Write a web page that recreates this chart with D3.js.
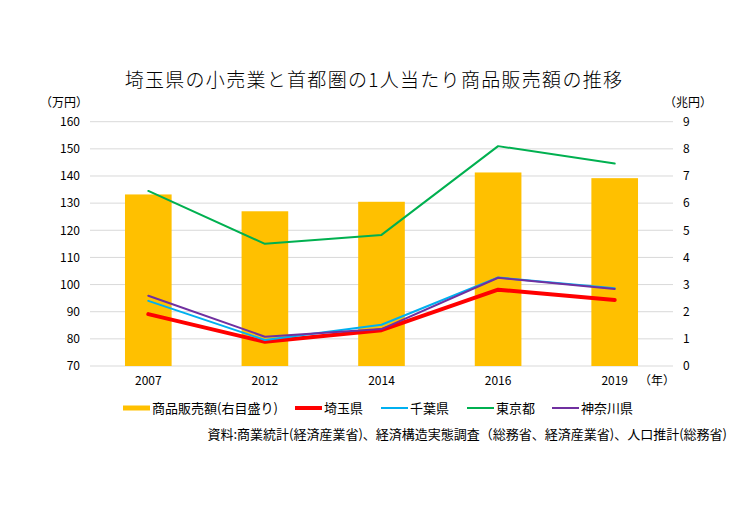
<!DOCTYPE html>
<html>
<head>
<meta charset="utf-8">
<script src="https://cdn.jsdelivr.net/npm/d3@7"></script>
<style>
  body { margin: 0; background: #ffffff; }
  text { font-family: "Noto Sans CJK JP", "Noto Sans", sans-serif; fill: #000000; }
  .grid line { stroke: #d9d9d9; stroke-width: 1; }
  .axes-font text { font-size: 12px; }
</style>
</head>
<body>
<div id="vis"></div>
<script>
// Data
const YEARS = ["2007", "2012", "2014", "2016", "2019"];
const SALES_TOTAL = [6.32, 5.70, 6.05, 7.13, 6.92];   // 兆円 (right axis)
const SAITAMA = [89.1, 78.9, 83.2, 98.1, 94.3];
const CHIBA = [94.0, 79.6, 85.2, 102.6, 98.6];
const TOKYO = [134.5, 115.0, 118.3, 151.0, 144.6];
const KANAGAWA = [95.9, 80.8, 83.6, 102.5, 98.4];
const LEFT_TICKS = [70, 80, 90, 100, 110, 120, 130, 140, 150, 160];
const RIGHT_TICKS = [0, 1, 2, 3, 4, 5, 6, 7, 8, 9];

const SERIES = [
  {name: "埼玉県", values: SAITAMA, color: "#ff0000", width: 4},
  {name: "千葉県", values: CHIBA, color: "#00b0f0", width: 2},
  {name: "東京都", values: TOKYO, color: "#00b050", width: 2},
  {name: "神奈川県", values: KANAGAWA, color: "#7030a0", width: 2}
];

const FRAME_WIDTH = 756;
const FRAME_HEIGHT = 529;
const PLOT = {left: 90, right: 673, top: 121.7, bottom: 366};

const FRAME = d3.select("#vis")
                .append("svg")
                .attr("width", FRAME_WIDTH)
                .attr("height", FRAME_HEIGHT);

// scales
const X_BAND = d3.scaleBand().domain(YEARS).range([PLOT.left, PLOT.right]);
const Y_LEFT = d3.scaleLinear().domain([70, 160]).range([PLOT.bottom, PLOT.top]);
const Y_RIGHT = d3.scaleLinear().domain([0, 9]).range([PLOT.bottom, PLOT.top]);

// gridlines
FRAME.append("g")
     .attr("class", "grid")
     .selectAll("line")
     .data(LEFT_TICKS)
     .enter()
     .append("line")
     .attr("x1", PLOT.left)
     .attr("x2", PLOT.right)
     .attr("y1", d => Y_LEFT(d))
     .attr("y2", d => Y_LEFT(d));

// left axis
FRAME.append("g")
     .attr("transform", "translate(" + (PLOT.left - 10) + ",0)")
     .attr("class", "axes-font")
     .call(d3.axisLeft(Y_LEFT).tickValues(LEFT_TICKS).tickSize(0).tickPadding(0))
     .call(g => g.select(".domain").remove());

// right axis
FRAME.append("g")
     .attr("transform", "translate(" + (PLOT.right + 10) + ",0)")
     .attr("class", "axes-font")
     .call(d3.axisRight(Y_RIGHT).tickValues(RIGHT_TICKS).tickSize(0).tickPadding(0))
     .call(g => g.select(".domain").remove());

// bottom axis
FRAME.append("g")
     .attr("transform", "translate(0," + PLOT.bottom + ")")
     .attr("class", "axes-font")
     .call(d3.axisBottom(X_BAND).tickSize(0).tickPadding(10))
     .call(g => g.select(".domain").remove());

// bars (right axis)
FRAME.selectAll(".bar")
     .data(YEARS)
     .enter()
     .append("rect")
     .attr("class", "bar")
     .attr("x", d => X_BAND(d) + X_BAND.bandwidth() * 0.3)
     .attr("width", X_BAND.bandwidth() * 0.4)
     .attr("y", (d, i) => Y_RIGHT(SALES_TOTAL[i]))
     .attr("height", (d, i) => PLOT.bottom - Y_RIGHT(SALES_TOTAL[i]))
     .attr("fill", "#ffc000");

// lines (left axis)
const line = d3.line()
               .x((d, i) => X_BAND(YEARS[i]) + X_BAND.bandwidth() / 2)
               .y(d => Y_LEFT(d));

SERIES.forEach(s => {
  FRAME.append("path")
       .datum(s.values)
       .attr("d", line)
       .attr("fill", "none")
       .attr("stroke", s.color)
       .attr("stroke-width", s.width)
       .attr("stroke-linejoin", "round")
       .attr("stroke-linecap", "round");
});

// title and unit labels
FRAME.append("text")
     .attr("x", 374)
     .attr("y", 87)
     .attr("text-anchor", "middle")
     .style("font-size", "19px")
     .style("font-weight", 300)
     .style("letter-spacing", "1.3px")
     .text("埼玉県の小売業と首都圏の1人当たり商品販売額の推移");

FRAME.append("text")
     .attr("x", 88).attr("y", 107)
     .attr("text-anchor", "end")
     .style("font-size", "12px")
     .text("（万円）");

FRAME.append("text")
     .attr("x", 688).attr("y", 107)
     .attr("text-anchor", "middle")
     .style("font-size", "12px")
     .text("（兆円）");

FRAME.append("text")
     .attr("x", 657).attr("y", 385)
     .attr("text-anchor", "middle")
     .style("font-size", "12px")
     .text("（年）");

// legend
const LEGEND = [
  {name: "商品販売額(右目盛り)", color: "#ffc000", width: 5, x: 123},
  {name: "埼玉県", color: "#ff0000", width: 4, x: 295},
  {name: "千葉県", color: "#00b0f0", width: 2, x: 381},
  {name: "東京都", color: "#00b050", width: 2, x: 467},
  {name: "神奈川県", color: "#7030a0", width: 2, x: 552}
];
const LEGEND_Y = 408;
const legendItems = FRAME.selectAll(".legend")
                         .data(LEGEND)
                         .enter()
                         .append("g")
                         .attr("class", "legend")
                         .attr("transform", d => "translate(" + d.x + "," + LEGEND_Y + ")");
legendItems.append("line")
           .attr("x1", 0).attr("x2", 27)
           .attr("stroke", d => d.color)
           .attr("stroke-width", d => d.width);
legendItems.append("text")
           .attr("x", 29)
           .attr("dy", "0.36em")
           .style("font-size", "13px")
           .text(d => d.name);

// source note
FRAME.append("text")
     .attr("x", 727)
     .attr("y", 439)
     .attr("text-anchor", "end")
     .style("font-size", "13px")
     .text("資料:商業統計(経済産業省)、経済構造実態調査（総務省、経済産業省)、人口推計(総務省)");
</script>
</body>
</html>
